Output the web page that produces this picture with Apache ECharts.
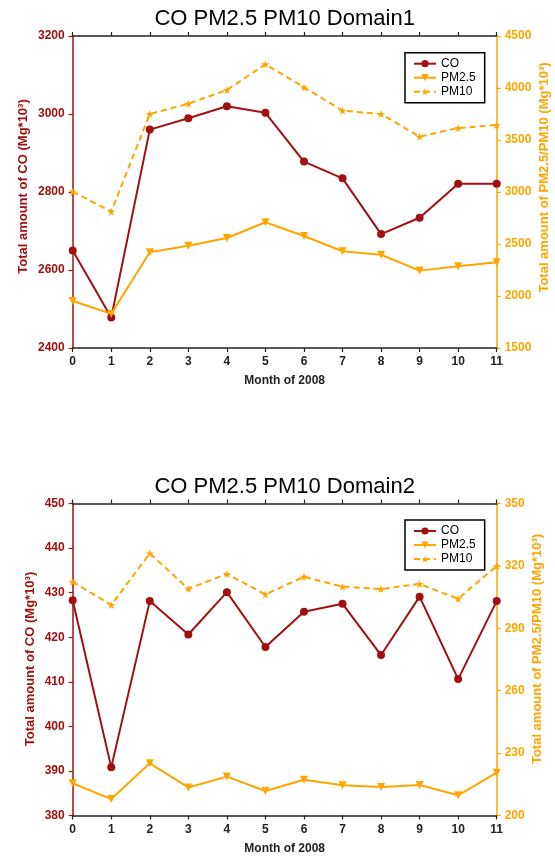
<!DOCTYPE html>
<html>
<head>
<meta charset="utf-8">
<script src="https://cdn.jsdelivr.net/npm/echarts@6/dist/echarts.min.js"></script>
<style>
html,body{margin:0;padding:0;background:#fff;}
#chart{width:555px;height:856px;}
</style>
</head>
<body>
<div id="chart"></div>
<script>
// ---- data ----
var months = ['0','1','2','3','4','5','6','7','8','9','10','11'];
var co1   = [2650, 2478, 2960, 2989, 3020, 3003, 2878, 2835, 2692, 2734, 2821, 2821];
var pm25_1 = [1952, 1830, 2420, 2484, 2558, 2709, 2577, 2430, 2397, 2244, 2285, 2324];
var pm10_1 = [3005, 2811, 3750, 3849, 3981, 4228, 4007, 3782, 3750, 3532, 3615, 3644];
var co2   = [428.3, 390.8, 428.1, 420.6, 430.1, 417.8, 425.7, 427.5, 416.0, 429.1, 410.6, 428.1];
var pm25_2 = [215.5, 207.9, 225.1, 213.5, 218.7, 211.8, 217.2, 214.5, 213.7, 214.7, 209.7, 220.6];
var pm10_2 = [312.4, 301.2, 326.0, 309.0, 316.1, 306.3, 314.8, 310.0, 308.9, 311.3, 304.2, 320.0];

var coTicks1 = [2400, 2600, 2800, 3000, 3200];
var pmTicks1 = [1500, 2000, 2500, 3000, 3500, 4000, 4500];
var coTicks2 = [380, 390, 400, 410, 420, 430, 440, 450];
var pmTicks2 = [200, 230, 260, 290, 320, 350];

var titles = ['CO PM2.5 PM10 Domain1', 'CO PM2.5 PM10 Domain2'];
var seriesNames = ['CO', 'PM2.5', 'PM10'];
var xName = 'Month of 2008';
var coAxisName = 'Total amount of CO (Mg*10\u00B3)';
var pmAxisName = 'Total amount of PM2.5/PM10 (Mg*10\u00B3)';

// ---- styles ----
var RED = '#a01010';
var ORANGE = '#ffa500';
var BLACK = '#222';
var FONT = '"Liberation Sans", Arial, sans-serif';
var STAR = 'path://M0,-10 L2.351,-3.236 L9.511,-3.09 L3.804,1.236 L5.878,8.09 L0,4 L-5.878,8.09 L-3.804,1.236 L-9.511,-3.09 L-2.351,-3.236 Z';

var grids = [
  {left: 72.7, width: 424, top: 36, height: 312},
  {left: 72.7, width: 424, top: 503.5, height: 312}
];

function plain(v) { return String(v); }

function xAxes(gi) {
  return [
    {
      type: 'category', gridIndex: gi, data: months, boundaryGap: false, position: 'bottom',
      axisLine: {lineStyle: {color: BLACK, width: 1.5}},
      axisTick: {show: true, inside: false, length: 4, alignWithLabel: true, lineStyle: {color: BLACK, width: 1.2}},
      axisLabel: {color: BLACK, fontWeight: 'bold', fontSize: 12, fontFamily: FONT, margin: 8},
      splitLine: {show: false},
      name: xName, nameLocation: 'middle', nameGap: 27,
      nameTextStyle: {color: BLACK, fontWeight: 'bold', fontSize: 12, fontFamily: FONT}
    },
    {
      type: 'category', gridIndex: gi, data: months, boundaryGap: false, position: 'top',
      axisLine: {lineStyle: {color: BLACK, width: 1.5}},
      axisTick: {show: true, inside: false, length: 4, lineStyle: {color: BLACK, width: 1.2}},
      axisLabel: {show: false},
      splitLine: {show: false}
    }
  ];
}

function yAxis(gi, pos, ticks, color, custom) {
  var a = {
    type: 'value', gridIndex: gi, position: pos,
    min: ticks[0], max: ticks[ticks.length - 1],
    axisLine: {show: true, lineStyle: {color: color, width: 1.5}},
    axisTick: {show: true, inside: false, length: 4, lineStyle: {color: color, width: 1.2}},
    axisLabel: {color: color, fontWeight: 'bold', fontSize: 12, fontFamily: FONT, margin: 8, formatter: plain},
    splitLine: {show: false}
  };
  if (custom) {
    a.axisLabel.customValues = ticks;
    a.axisTick.customValues = ticks;
  } else {
    a.interval = ticks[1] - ticks[0];
  }
  return a;
}

function seriesFor(gi, co, pm25, pm10) {
  return [
    {
      name: seriesNames[0], type: 'line', xAxisIndex: gi * 2, yAxisIndex: gi * 2, data: co,
      symbol: 'circle', symbolSize: 8, showSymbol: true, showAllSymbol: true,
      lineStyle: {color: RED, width: 2}, itemStyle: {color: RED}
    },
    {
      name: seriesNames[1], type: 'line', xAxisIndex: gi * 2, yAxisIndex: gi * 2 + 1, data: pm25,
      symbol: 'triangle', symbolRotate: 180, symbolSize: 8, showSymbol: true, showAllSymbol: true,
      lineStyle: {color: ORANGE, width: 2}, itemStyle: {color: ORANGE}
    },
    {
      name: seriesNames[2], type: 'line', xAxisIndex: gi * 2, yAxisIndex: gi * 2 + 1, data: pm10,
      symbol: STAR, symbolSize: 8, showSymbol: true, showAllSymbol: true,
      lineStyle: {color: ORANGE, width: 2, type: [6, 4]}, itemStyle: {color: ORANGE}
    }
  ];
}

function legendFor(top) {
  return {
    orient: 'vertical', left: 405, top: top,
    data: seriesNames,
    borderColor: '#000', borderWidth: 1.5, backgroundColor: '#fff',
    padding: [5, 9, 5, 8], itemGap: 2, itemWidth: 22, itemHeight: 9,
    textStyle: {color: '#000', fontSize: 12, fontFamily: FONT},
    selectedMode: false
  };
}

function titleFor(text, top) {
  return {
    text: text, left: 284.7, top: top, textAlign: 'center', padding: 0,
    textStyle: {color: '#000', fontSize: 22, fontWeight: 'normal', fontFamily: FONT}
  };
}

function vtext(text, x, y, color) {
  return {
    type: 'text', x: x, y: y, rotation: Math.PI / 2,
    style: {
      text: text, fill: color, font: 'bold 13px ' + FONT,
      textAlign: 'center', textVerticalAlign: 'middle', align: 'center', verticalAlign: 'middle'
    }
  };
}

var chart = echarts.init(document.getElementById('chart'), null, {renderer: 'canvas'});
chart.setOption({
  animation: false,
  backgroundColor: '#fff',
  title: [titleFor(titles[0], 8), titleFor(titles[1], 476)],
  grid: grids,
  legend: [legendFor(52.7), legendFor(520)],
  xAxis: xAxes(0).concat(xAxes(1)),
  yAxis: [
    yAxis(0, 'left', coTicks1, RED, false),
    yAxis(0, 'right', pmTicks1, ORANGE, false),
    yAxis(1, 'left', coTicks2, RED, false),
    yAxis(1, 'right', pmTicks2, ORANGE, true)
  ],
  series: seriesFor(0, co1, pm25_1, pm10_1).concat(seriesFor(1, co2, pm25_2, pm10_2)),
  graphic: [
    vtext(coAxisName, 23, 186.5, RED),
    vtext(pmAxisName, 544, 177.5, ORANGE),
    vtext(coAxisName, 30, 659, RED),
    vtext(pmAxisName, 537, 649, ORANGE)
  ]
});
</script>
</body>
</html>
